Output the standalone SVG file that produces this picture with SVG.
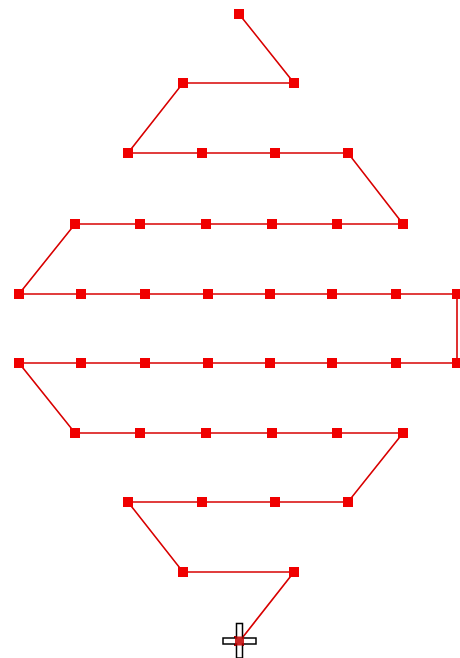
<svg xmlns="http://www.w3.org/2000/svg" xmlns:xlink="http://www.w3.org/1999/xlink" width="460" height="658" viewBox="0 0 460 658">
<style>
.wire{fill:none;stroke:#d80000;stroke-width:1.6;stroke-linejoin:miter}
.sq{fill:#f00000}
.cur{fill:#fff;stroke:#000;stroke-width:1.5}
</style>
<defs>
<rect id="sq" class="sq" x="-5" y="-5" width="10" height="10"/>
</defs>
<rect width="460" height="658" fill="#fff"/>
<g id="connectors">
<polyline class="wire" points="239,14 294,83 183,83 128,153 348,153 403,224 75,224 19,294 457,294 457,363 19,363 75,433 403,433 348,502 128,502 183,572 294,572 239,642"/>
</g>
<g id="nodes">
<g id="p1"><use xlink:href="#sq" x="239" y="14"/></g>
<g id="r2a"><use xlink:href="#sq" x="183" y="83"/></g>
<g id="r2b"><use xlink:href="#sq" x="294" y="83"/></g>
<g id="r3a"><use xlink:href="#sq" x="128" y="153"/></g>
<g id="r3b"><use xlink:href="#sq" x="202" y="153"/></g>
<g id="r3c"><use xlink:href="#sq" x="275" y="153"/></g>
<g id="r3d"><use xlink:href="#sq" x="348" y="153"/></g>
<g id="r4a"><use xlink:href="#sq" x="75" y="224"/></g>
<g id="r4b"><use xlink:href="#sq" x="140" y="224"/></g>
<g id="r4c"><use xlink:href="#sq" x="206" y="224"/></g>
<g id="r4d"><use xlink:href="#sq" x="272" y="224"/></g>
<g id="r4e"><use xlink:href="#sq" x="337" y="224"/></g>
<g id="r4f"><use xlink:href="#sq" x="403" y="224"/></g>
<g id="r5a"><use xlink:href="#sq" x="19" y="294"/></g>
<g id="r5b"><use xlink:href="#sq" x="81" y="294"/></g>
<g id="r5c"><use xlink:href="#sq" x="145" y="294"/></g>
<g id="r5d"><use xlink:href="#sq" x="208" y="294"/></g>
<g id="r5e"><use xlink:href="#sq" x="270" y="294"/></g>
<g id="r5f"><use xlink:href="#sq" x="332" y="294"/></g>
<g id="r5g"><use xlink:href="#sq" x="396" y="294"/></g>
<g id="r5h"><use xlink:href="#sq" x="457" y="294"/></g>
<g id="r6a"><use xlink:href="#sq" x="19" y="363"/></g>
<g id="r6b"><use xlink:href="#sq" x="81" y="363"/></g>
<g id="r6c"><use xlink:href="#sq" x="145" y="363"/></g>
<g id="r6d"><use xlink:href="#sq" x="208" y="363"/></g>
<g id="r6e"><use xlink:href="#sq" x="270" y="363"/></g>
<g id="r6f"><use xlink:href="#sq" x="332" y="363"/></g>
<g id="r6g"><use xlink:href="#sq" x="396" y="363"/></g>
<g id="r6h"><use xlink:href="#sq" x="457" y="363"/></g>
<g id="r7a"><use xlink:href="#sq" x="75" y="433"/></g>
<g id="r7b"><use xlink:href="#sq" x="140" y="433"/></g>
<g id="r7c"><use xlink:href="#sq" x="206" y="433"/></g>
<g id="r7d"><use xlink:href="#sq" x="272" y="433"/></g>
<g id="r7e"><use xlink:href="#sq" x="337" y="433"/></g>
<g id="r7f"><use xlink:href="#sq" x="403" y="433"/></g>
<g id="r8a"><use xlink:href="#sq" x="128" y="502"/></g>
<g id="r8b"><use xlink:href="#sq" x="202" y="502"/></g>
<g id="r8c"><use xlink:href="#sq" x="275" y="502"/></g>
<g id="r8d"><use xlink:href="#sq" x="348" y="502"/></g>
<g id="r9a"><use xlink:href="#sq" x="183" y="572"/></g>
<g id="r9b"><use xlink:href="#sq" x="294" y="572"/></g>
<g id="end"><rect x="234" y="636" width="10" height="10" fill="#c00000"/></g>
</g>
<g id="cursor">
<path class="cur" d="M236.5,623.5 H242.5 V638 H256 V644 H242.5 V658 H236.5 V644 H223 V638 H236.5 Z"/>
<rect x="235" y="636.5" width="9" height="9" fill="#c00000" opacity="0.85"/>
</g>
</svg>
